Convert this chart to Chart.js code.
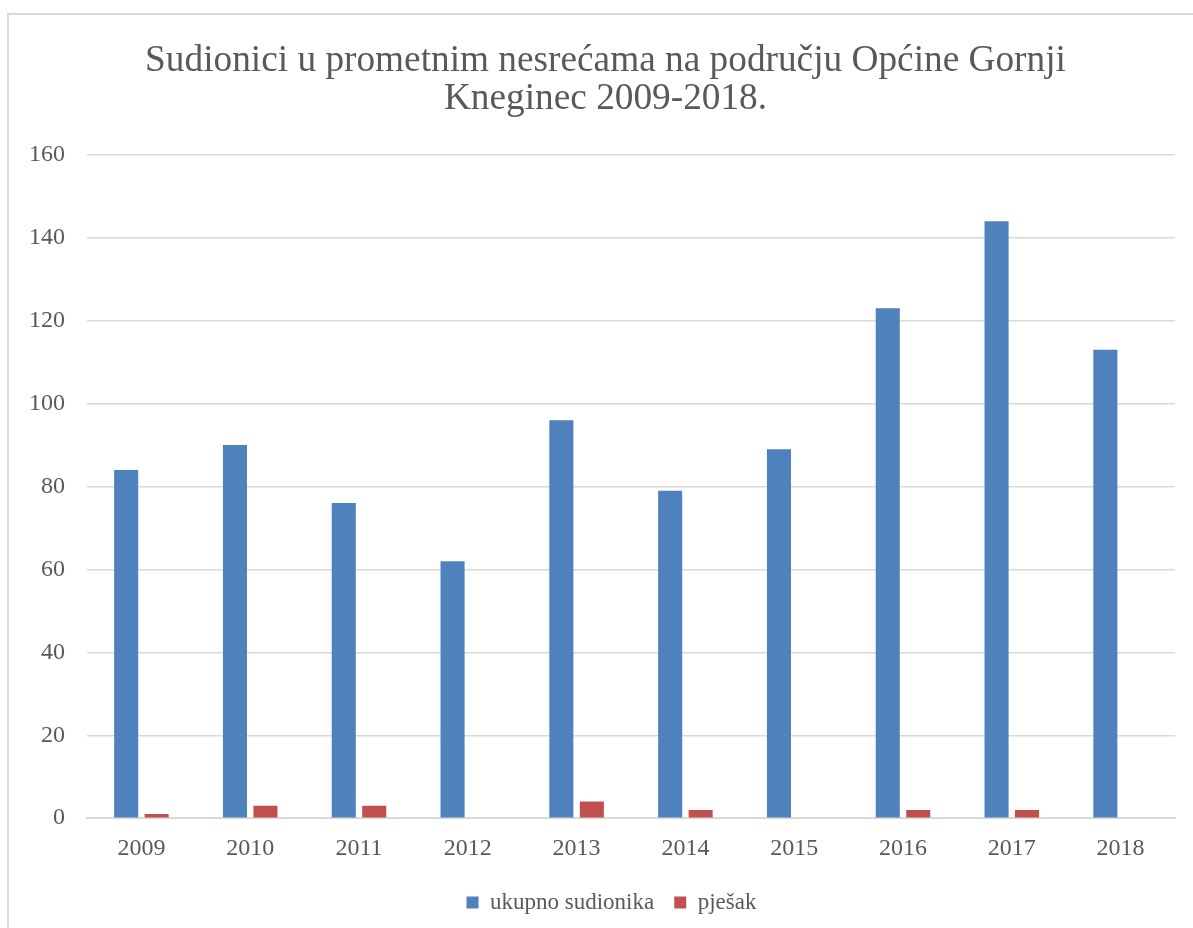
<!DOCTYPE html>
<html>
<head>
<meta charset="utf-8">
<script src="https://cdn.jsdelivr.net/npm/chart.js@4"></script>
<style>
html,body{margin:0;padding:0;background:#fff;overflow:hidden}
#wrap{position:absolute;left:0;top:0;width:1193px;height:928px}
#frame{position:absolute;left:7px;top:13px;width:1200px;height:930px;border:2px solid #d9d9d9;box-sizing:border-box;pointer-events:none}
</style>
</head>
<body>
<div id="wrap">
<canvas id="chart" width="1193" height="928"></canvas>
<div id="frame"></div>
</div>
<script>
// data
const years=["2009","2010","2011","2012","2013","2014","2015","2016","2017","2018"]
const ukupno=[84,90,76,62,96,79,89,123,144,113]
const pjesak=[1,3,3,0,4,2,0,2,2,0]
const titleLines=["Sudionici u prometnim nesrećama na području Općine Gornji","Kneginec 2009-2018."]

const grey="#595959"
const serif="'Liberation Serif','Times New Roman',serif"

// title and legend sit a bit right of the plot centre in the original
const nudge={
id:"nudge",
afterLayout(chart){
if(chart.titleBlock){chart.titleBlock.left+=8;chart.titleBlock.right+=8}
if(chart.legend){chart.legend.left+=14;chart.legend.right+=14}
}
}

const ctx=document.getElementById("chart").getContext("2d")

new Chart(ctx,{
type:"bar",
data:{
labels:years,
datasets:[
{label:"ukupno sudionika",data:ukupno,backgroundColor:"#4f81bd"},
{label:"pješak",data:pjesak,backgroundColor:"#c0504d"}
]
},
plugins:[nudge],
options:{
responsive:false,
animation:false,
layout:{padding:{left:20,right:18,top:0,bottom:4}},
datasets:{bar:{categoryPercentage:0.56,barPercentage:0.79}},
plugins:{
title:{
display:true,
text:titleLines,
color:grey,
font:{family:serif,size:37.3,weight:"normal",lineHeight:1.03},
padding:{top:42,bottom:36}
},
legend:{
position:"bottom",
labels:{
color:grey,
font:{family:serif,size:23},
boxWidth:12,
boxHeight:12,
padding:20
}
},
tooltip:{enabled:false}
},
scales:{
x:{
grid:{display:false},
border:{color:"#d9d9d9",width:2},
ticks:{color:grey,font:{family:serif,size:24},padding:8}
},
y:{
min:0,
max:160,
ticks:{stepSize:20,color:grey,font:{family:serif,size:24},padding:22},
grid:{color:"#d9d9d9",lineWidth:1.5,drawTicks:false},
border:{display:false},
afterFit(scale){scale.width=67}
}
}
}
})
</script>
</body>
</html>
